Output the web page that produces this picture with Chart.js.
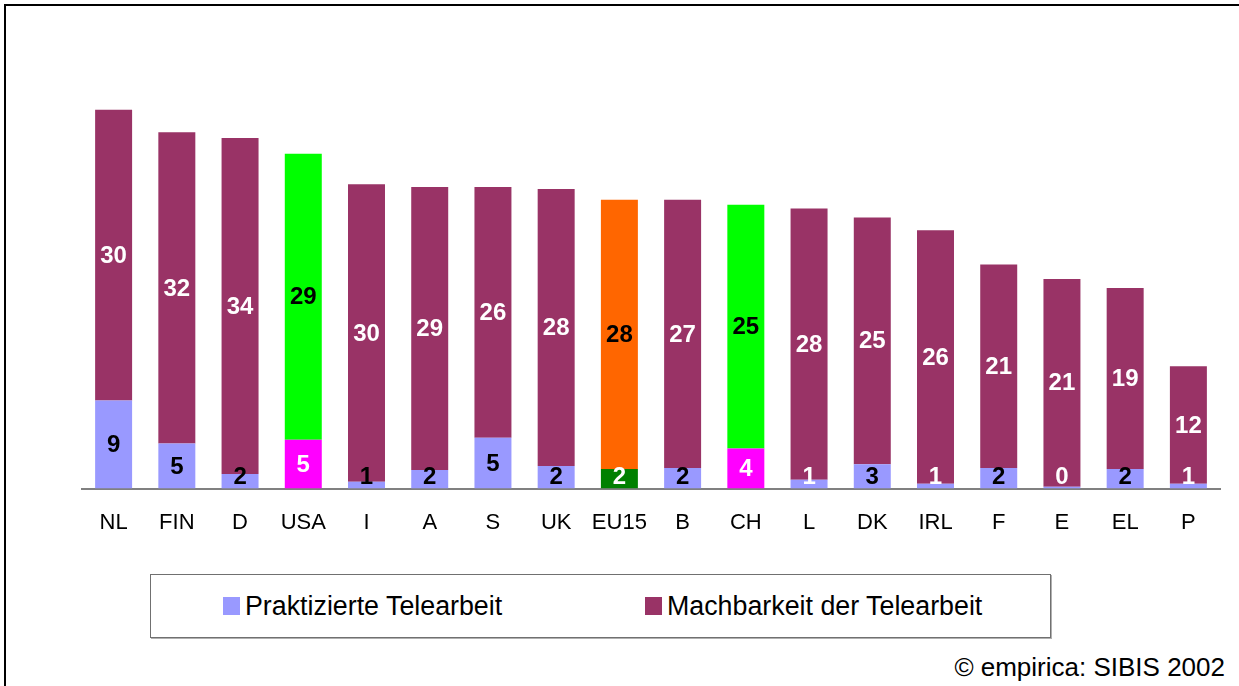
<!DOCTYPE html>
<html lang="de">
<head>
  <meta charset="UTF-8">
  <title>Telearbeit</title>
  <script src="https://cdn.jsdelivr.net/npm/chart.js"></script>
  <style>
    body {
      margin: 0;
      width: 1239px;
      height: 686px;
      overflow: hidden;
      background: #fff;
      font-family: 'Liberation Sans', Arial, sans-serif;
      position: relative;
    }
    .frame {
      position: absolute;
      left: 4px;
      top: 4px;
      width: 1400px;
      height: 900px;
      border-left: 2px solid #000;
      border-top: 2px solid #000;
    }
    .chart-box {
      position: absolute;
      left: 0;
      top: 0;
      width: 1239px;
      height: 566px;
    }
    .legend {
      position: absolute;
      left: 150px;
      top: 574px;
      width: 899px;
      height: 62px;
      border: 1px solid #707070;
      box-shadow: 1px 1px 0 #b0b0b0;
    }
    .legend .item {
      position: absolute;
      top: 0;
      height: 62px;
      display: flex;
      align-items: center;
      font-size: 26.8px;
      color: #000;
    }
    .legend .swatch {
      width: 17px;
      height: 18px;
      margin-right: 5px;
    }
    .source {
      position: absolute;
      right: 14px;
      top: 652px;
      font-size: 26px;
      color: #000;
    }
  </style>
</head>
<body>
  <div class="frame"></div>
  <div class="chart-box"><canvas id="teleChart"></canvas></div>

  <div class="legend">
    <div class="item" style="left:72px"><span class="swatch" style="background:#9999ff"></span>Praktizierte Telearbeit</div>
    <div class="item" style="left:494px"><span class="swatch" style="background:#993366"></span>Machbarkeit der Telearbeit</div>
  </div>

  <div class="source">© empirica: SIBIS 2002</div>

  <script>
    // Werte in Prozent
    const categories = ['NL', 'FIN', 'D', 'USA', 'I', 'A', 'S', 'UK', 'EU15', 'B', 'CH', 'L', 'DK', 'IRL', 'F', 'E', 'EL', 'P'];
    const praktiziert = [9.0, 4.6, 1.5, 5.0, 0.7, 1.9, 5.2, 2.3, 2.0, 2.1, 4.1, 0.9, 2.5, 0.5, 2.1, 0.2, 2.0, 0.5];
    const machbarkeit = [29.7, 31.8, 34.3, 29.2, 30.4, 28.9, 25.6, 28.3, 27.5, 27.4, 24.9, 27.7, 25.2, 25.9, 20.8, 21.2, 18.5, 12.0];

    // Hervorhebungen (USA, EU15, CH)
    const lowColors = { USA: '#ff00ff', EU15: '#008000', CH: '#ff00ff' };
    const highColors = { USA: '#00ff00', EU15: '#ff6600', CH: '#00ff00' };
    const whiteLowLabels = ['USA', 'EU15', 'CH', 'L', 'IRL', 'E', 'P'];

    const font = "'Liberation Sans', Arial, sans-serif";

    const barLabels = {
      id: 'barLabels',
      afterDatasetsDraw(chart) {
        const ctx = chart.ctx;
        ctx.save();
        ctx.font = 'bold 24px ' + font;
        ctx.textAlign = 'center';
        ctx.textBaseline = 'middle';
        chart.data.datasets.forEach((ds, di) => {
          const meta = chart.getDatasetMeta(di);
          meta.data.forEach((bar, i) => {
            const cat = categories[i];
            let y = (bar.y + bar.base) / 2;
            if (di === 0) {
              y = Math.min(y, bar.base - 12);
              ctx.fillStyle = whiteLowLabels.includes(cat) ? '#fff' : '#000';
            } else {
              ctx.fillStyle = highColors[cat] ? '#000' : '#fff';
            }
            ctx.fillText(Math.round(ds.data[i]), bar.x, y + 1);
          });
        });
        ctx.restore();
      }
    };

    new Chart(document.getElementById('teleChart'), {
      type: 'bar',
      data: {
        labels: categories,
        datasets: [{
          label: 'Praktizierte Telearbeit',
          data: praktiziert,
          backgroundColor: categories.map(c => lowColors[c] || '#9999ff')
        }, {
          label: 'Machbarkeit der Telearbeit',
          data: machbarkeit,
          backgroundColor: categories.map(c => highColors[c] || '#993366')
        }]
      },
      options: {
        responsive: true,
        maintainAspectRatio: false,
        animation: false,
        barPercentage: 0.585,
        categoryPercentage: 1,
        layout: {
          padding: { left: 82, right: 19, top: 97, bottom: 8 }
        },
        plugins: {
          legend: { display: false },
          tooltip: { enabled: false }
        },
        scales: {
          x: {
            stacked: true,
            grid: { display: false, drawTicks: false },
            border: { display: true, color: '#808080', width: 2 },
            ticks: {
              color: '#000',
              padding: 21.5,
              font: { family: font, size: 22 }
            }
          },
          y: {
            stacked: true,
            display: false,
            min: 0,
            max: 40
          }
        }
      },
      plugins: [barLabels]
    });
  </script>
</body>
</html>
